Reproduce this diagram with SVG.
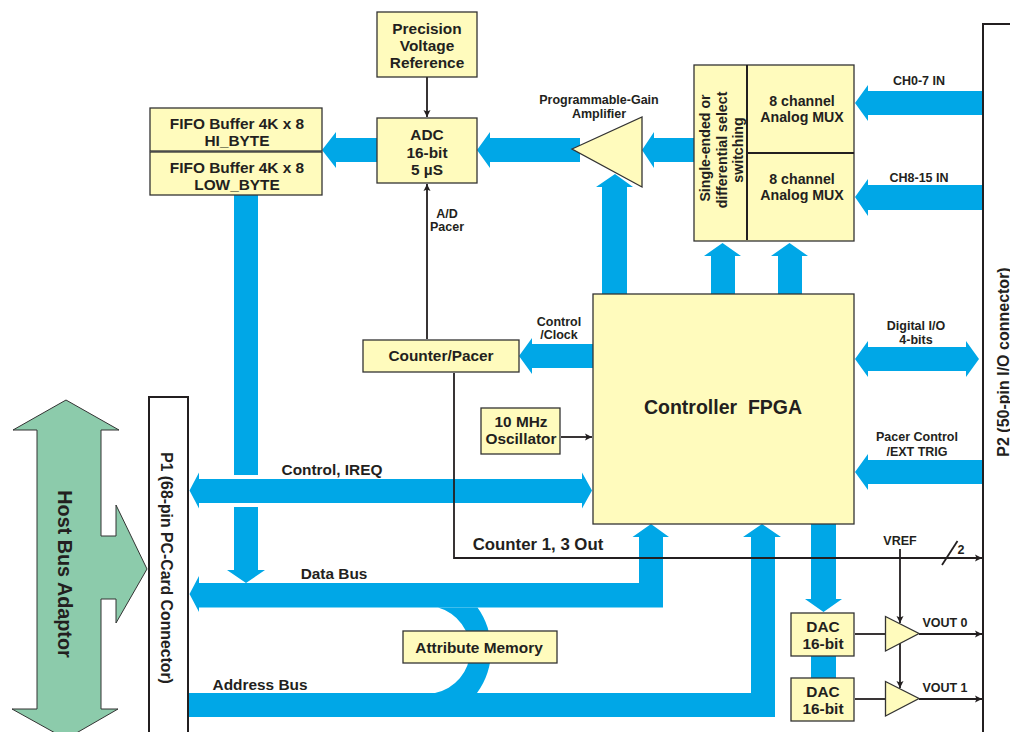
<svg xmlns="http://www.w3.org/2000/svg" width="1010" height="732" viewBox="0 0 1010 732">
<style>
text{font-family:"Liberation Sans",Arial,sans-serif;font-weight:bold;fill:#231f20;text-anchor:middle}
.b{fill:#fffbbd;stroke:#333;stroke-width:1.3}
.bus{fill:#00a7e7}
.w{fill:none;stroke:#231f20;stroke-width:1.8}
.s{font-size:12.5px}.m{font-size:14.2px}.l{font-size:15.4px}
</style>
<defs><marker id="a" markerWidth="8" markerHeight="8" refX="7" refY="4" orient="auto" markerUnits="userSpaceOnUse"><path d="M0 0.5L7 4L0 7.5L1.5 4Z" fill="#231f20"/></marker></defs>
<g id="connectors">
<path class="bus" d="M234 195H258V475H234ZM234 507H258V570H265L246 583L227 570H234Z"/>
<path class="bus" d="M189.500 490.500L199 472.500V479H582V472.500L592 490.500L582 508.500V503H199V508.500Z"/>
<path class="bus" d="M189.500 594L199 576V583H639V537H632.500L651 524L669 537H663V607.500H199V612Z"/>
<path class="bus" d="M188 693H435A44 44 0 0 0 438 607.500H477.500A72.700 72.700 0 0 1 477 693H751V537H743L762 524L781 537H775V717H188Z"/>
<path class="bus" d="M477 150L490 132V138H580V162H490V168Z"/>
<path class="bus" d="M642 150L654 132V138H695V162H654V168Z"/>
<path class="bus" d="M322 150L336 132V138H377V162H336V168Z"/>
<path class="bus" d="M602 294V187H596L615 174L633 187H627V294Z"/>
<path class="bus" d="M711 294V256H704L722.500 243L741 256H735V294Z"/>
<path class="bus" d="M778 294V256H771L789.500 243L808 256H802V294Z"/>
<path class="bus" d="M855 103L868 85V91H983V115H868V121Z"/>
<path class="bus" d="M855 197L868 179V185H983V210H868V216Z"/>
<path class="bus" d="M519 356L532 338V344H594V368H532V374Z"/>
<path class="bus" d="M855 359L868 341V347H966V341L979 359L966 377V371H868V377Z"/>
<path class="bus" d="M855 472L868 454V460H983V484H868V490Z"/>
<path class="bus" d="M811 524H836V599H842L823.500 612L805 599H811Z"/>
<rect class="bus" x="811" y="656" width="25" height="22"/>
<path class="w" d="M427 77V117" marker-end="url(#a)"/>
<path class="w" d="M427 339V184" marker-end="url(#a)"/>
<path class="w" d="M454 373V558H982" marker-end="url(#a)"/>
<path class="w" d="M561 437H592" marker-end="url(#a)"/>
<path class="w" d="M900 549V623" marker-end="url(#a)"/>
<path class="w" d="M900 640V688" marker-end="url(#a)"/>
<path class="w" d="M855 634H886"/>
<path class="w" d="M919 634H982" marker-end="url(#a)"/>
<path class="w" d="M855 699H886"/>
<path class="w" d="M919 699H982" marker-end="url(#a)"/>
<path class="w" d="M942 565L957.500 541"/>
</g>
<g id="host-bus-adaptor"><path d="M66 400L119 430H101V536H116V505L147 569L116 623V599H101V709H118L66 739L12 709H37V430H13Z" fill="#8ccbab" stroke="#333" stroke-width="1"/><text font-size="19.800" transform="translate(58 574) rotate(90)">Host Bus Adaptor</text></g>
<g id="p1"><rect x="149" y="397" width="39" height="345" fill="#fff" stroke="#231f20" stroke-width="2"/><text font-size="15.800" transform="translate(161 568) rotate(90)">P1 (68-pin PC-Card Connector)</text></g>
<g id="p2"><rect x="983" y="24" width="40" height="720" fill="#fff" stroke="#231f20" stroke-width="2"/><text font-size="16" transform="translate(1009 362) rotate(-90)">P2 (50-pin I/O connector)</text></g>
<g id="precision-ref"><rect class="b" x="377" y="12" width="100" height="65"/><text class="l" x="427" y="34">Precision</text><text class="l" x="427" y="51">Voltage</text><text class="l" x="427" y="68">Reference</text></g>
<g id="adc"><rect class="b" x="377" y="118" width="100" height="65"/><text class="l" x="427" y="140">ADC</text><text class="l" x="427" y="158">16-bit</text><text class="l" x="427" y="175">5 µS</text></g>
<g id="fifo-hi"><rect class="b" x="150" y="108" width="172" height="43"/><text class="l" x="237" y="129">FIFO Buffer 4K x 8</text><text class="l" x="237" y="146">HI_BYTE</text></g>
<g id="fifo-low"><rect class="b" x="150" y="152" width="172" height="43"/><text class="l" x="237" y="173">FIFO Buffer 4K x 8</text><text class="l" x="237" y="190">LOW_BYTE</text></g>
<g id="pga"><path class="b" d="M572 149L642 117V187Z"/><text class="s" x="599" y="104">Programmable-Gain</text><text class="s" x="599" y="118">Amplifier</text></g>
<g id="mux"><rect class="b" x="694" y="65" width="160" height="176"/><path d="M747 65V240M747 153H854" fill="none" stroke="#231f20" stroke-width="2"/>
<text class="m" transform="translate(710 148) rotate(-90)">Single-ended or</text><text class="m" transform="translate(727 150) rotate(-90)">differential select</text><text class="m" transform="translate(743 150) rotate(-90)">switching</text>
<text class="m" x="802" y="106">8 channel</text><text class="m" x="802" y="122">Analog MUX</text><text class="m" x="802" y="184">8 channel</text><text class="m" x="802" y="200">Analog MUX</text></g>
<g id="counter-pacer"><rect class="b" x="363" y="340" width="156" height="32"/><text class="l" x="441" y="361">Counter/Pacer</text></g>
<g id="oscillator"><rect class="b" x="481" y="408" width="79" height="46"/><text class="l" x="521" y="427">10 MHz</text><text class="l" x="521" y="444">Oscillator</text></g>
<g id="fpga"><rect class="b" x="593" y="294" width="261" height="230"/><text font-size="19.500" x="723" y="414" style="white-space:pre">Controller  FPGA</text></g>
<g id="attribute-memory"><rect class="b" x="403" y="631" width="154" height="32"/><text class="l" x="479" y="653">Attribute Memory</text></g>
<g id="dac0"><rect class="b" x="791" y="613" width="63" height="43"/><text class="l" x="823" y="632">DAC</text><text class="l" x="823" y="649">16-bit</text></g>
<g id="dac1"><rect class="b" x="791" y="678" width="63" height="43"/><text class="l" x="823" y="697">DAC</text><text class="l" x="823" y="714">16-bit</text></g>
<g id="amp0"><path class="b" d="M885.500 616.500L919 633.500L885.500 651Z"/></g>
<g id="amp1"><path class="b" d="M885.500 681.500L919 698.500L885.500 716Z"/></g>
<g id="labels">
<text class="s" x="559" y="326">Control</text><text class="s" x="559" y="339">/Clock</text>
<text class="s" x="447" y="218">A/D</text><text class="s" x="447" y="231">Pacer</text>
<text class="l" x="332" y="475">Control, IREQ</text>
<text class="l" x="334" y="579">Data Bus</text>
<text class="l" x="260" y="690">Address Bus</text>
<text font-size="16.800" x="538" y="550">Counter 1, 3 Out</text>
<text class="s" x="919" y="85">CH0-7 IN</text><text class="s" x="919" y="182">CH8-15 IN</text>
<text class="s" x="916" y="330">Digital I/O</text><text class="s" x="916" y="344">4-bits</text>
<text class="s" x="917" y="441">Pacer Control</text><text class="s" x="917" y="456">/EXT TRIG</text>
<text class="s" x="900" y="545">VREF</text><text class="s" x="961" y="554">2</text>
<text class="s" x="945" y="627">VOUT 0</text><text class="s" x="945" y="692">VOUT 1</text>
</g>
</svg>
